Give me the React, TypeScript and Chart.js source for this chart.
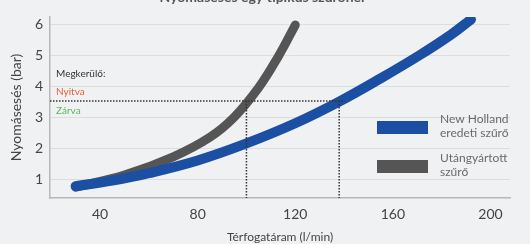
import React, { useEffect, useRef } from "react";
import { Chart, registerables } from "chart.js";

Chart.register(...registerables);

const titleText = "Nyomásesés egy tipikus szűrőnél";
const xTicks = [40, 80, 120, 160, 200];
const yTicks = [1, 2, 3, 4, 5, 6];

const blueX = [30, 45, 60, 80, 100, 120, 138, 155, 171, 184, 192];
const blueY = [0.77, 0.95, 1.19, 1.6, 2.15, 2.8, 3.5, 4.25, 5.0, 5.67, 6.15];

const grayX = [30, 50, 70, 85, 95, 105, 113, 120];
const grayY = [0.74, 1.13, 1.72, 2.35, 3.0, 3.95, 4.95, 5.97];

const bypassLevel = 3.52;
const bypassFlowGray = 100;
const bypassFlowBlue = 138;
const bypassLineEnd = 140;

const X_MIN = 19.5;
const X_MAX = 208;
const Y_MIN = 0.39;
const Y_MAX = 6.23;

const legendItems = [
  { lines: ["New Holland", "eredeti szűrő"], color: "#1b4fa3" },
  { lines: ["Utángyártott", "szűrő"], color: "#555555" },
];

const annotLabels = [
  { text: "Megkerülő:", color: "#333333" },
  { text: "Nyitva", color: "#e8603c" },
  { text: "Zárva", color: "#5cb85c" },
];

const BG = "#f0f1f2";

export default function App() {
  const ref = useRef<HTMLCanvasElement | null>(null);

  useEffect(() => {
    if (!ref.current) return;
    const pts = (xs: number[], ys: number[]) => xs.map((x, i) => ({ x, y: ys[i] }));

    const customPlugin = {
      id: "custom",
      beforeDraw(chart: any) {
        const ctx = chart.ctx;
        ctx.save();
        ctx.fillStyle = BG;
        ctx.fillRect(0, 0, chart.width, chart.height);
        ctx.restore();
      },
      afterDraw(chart: any) {
        const ctx = chart.ctx;
        const { chartArea } = chart;
        const ys = chart.scales.y;
        ctx.save();
        // title (clipped at top)
        ctx.fillStyle = "#555";
        ctx.font = "bold 14px Lato";
        ctx.textAlign = "center";
        ctx.textBaseline = "alphabetic";
        ctx.fillText(titleText, 262, 2);

        // annotation labels
        const yl = ys.getPixelForValue(bypassLevel);
        ctx.font = "10px Lato";
        ctx.textAlign = "left";
        ctx.textBaseline = "middle";
        const offs = [-27, -9, 10];
        annotLabels.forEach((a, i) => {
          ctx.fillStyle = a.color;
          ctx.fillText(a.text, chartArea.left + 6, yl + offs[i]);
        });

        // legend
        const lx = 377;
        const tops = [121, 160];
        ctx.font = "12px Lato";
        legendItems.forEach((it, i) => {
          ctx.fillStyle = it.color;
          ctx.fillRect(lx, tops[i], 51, 13);
          ctx.fillStyle = "#6a6a6a";
          ctx.textBaseline = "middle";
          ctx.fillText(it.lines[0], lx + 63, tops[i] - 2);
          ctx.fillText(it.lines[1], lx + 63, tops[i] + 12);
        });
        ctx.restore();
      },
    };

    const refLine = (data: { x: number; y: number }[]) => ({
      data,
      borderColor: "#333",
      borderWidth: 1.5,
      borderDash: [1.5, 1.5],
      pointRadius: 0,
      tension: 0,
      order: 0,
    });

    const chart = new Chart(ref.current, {
      type: "line",
      data: {
        datasets: [
          {
            label: "ref-h",
            ...refLine([
              { x: X_MIN, y: bypassLevel },
              { x: bypassLineEnd, y: bypassLevel },
            ]),
          },
          {
            label: "ref-v1",
            ...refLine([
              { x: bypassFlowGray, y: bypassLevel },
              { x: bypassFlowGray, y: Y_MIN },
            ]),
          },
          {
            label: "ref-v2",
            ...refLine([
              { x: bypassFlowBlue, y: bypassLevel },
              { x: bypassFlowBlue, y: Y_MIN },
            ]),
          },
          {
            label: "Utángyártott szűrő",
            data: pts(grayX, grayY),
            borderColor: "#555555",
            borderWidth: 9,
            borderCapStyle: "round",
            borderJoinStyle: "round",
            tension: 0.4,
            pointRadius: 0,
            order: 2,
          },
          {
            label: "New Holland eredeti szűrő",
            data: pts(blueX, blueY),
            borderColor: "#1b4fa3",
            borderWidth: 10,
            borderCapStyle: "round",
            borderJoinStyle: "round",
            tension: 0.4,
            pointRadius: 0,
            order: 1,
          },
        ],
      },
      options: {
        animation: false,
        responsive: false,
        maintainAspectRatio: false,
        layout: { padding: { top: 17, right: 20, left: 8, bottom: 0 } },
        plugins: { legend: { display: false }, tooltip: { enabled: false }, title: { display: false } },
        scales: {
          x: {
            type: "linear",
            min: X_MIN,
            max: X_MAX,
            afterBuildTicks: (s: any) => {
              s.ticks = xTicks.map((v) => ({ value: v }));
            },
            afterFit: (s: any) => {
              s.height = 46;
            },
            grid: { display: false, drawTicks: false },
            border: { display: true, color: "#b8b8b8", width: 1.5 },
            ticks: { color: "#444", font: { family: "Lato", size: 14 }, padding: 8, maxRotation: 0 },
            title: {
              display: true,
              text: "Térfogatáram (l/min)",
              color: "#444",
              font: { family: "Lato", size: 12 },
              padding: { top: 2, bottom: 0 },
            },
          },
          y: {
            type: "linear",
            min: Y_MIN,
            max: Y_MAX,
            afterBuildTicks: (s: any) => {
              s.ticks = yTicks.map((v) => ({ value: v }));
            },
            afterFit: (s: any) => {
              s.width = 42;
            },
            grid: { color: "#dcdddf", lineWidth: 1, drawTicks: false },
            border: { display: true, color: "#b8b8b8", width: 1.5 },
            ticks: { color: "#444", font: { family: "Lato", size: 14 }, padding: 7 },
            title: {
              display: true,
              text: "Nyomásesés (bar)",
              color: "#444",
              font: { family: "Lato", size: 14 },
              padding: { top: 0, bottom: 2 },
            },
          },
        },
      },
      plugins: [customPlugin],
    } as any);
    return () => chart.destroy();
  }, []);

  return (
    <div style={{ position: "fixed", left: 0, top: 0, width: 530, height: 244, background: BG }}>
      <canvas ref={ref} width={530} height={244} style={{ display: "block", width: 530, height: 244 }} />
    </div>
  );
}
